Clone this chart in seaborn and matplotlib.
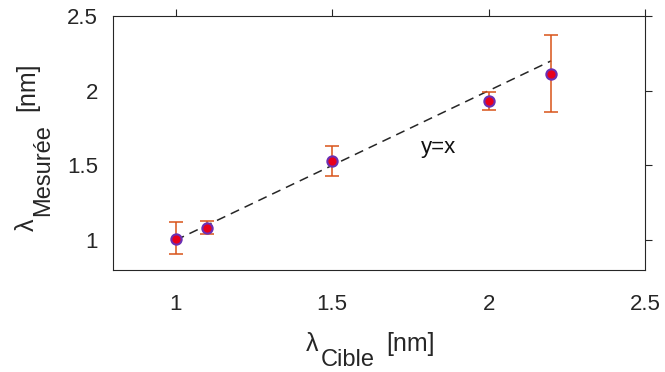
import matplotlib
matplotlib.use("Agg")
import matplotlib.pyplot as plt
import matplotlib.transforms as mtransforms
import seaborn as sns
import pandas as pd

# data
lam_cible = [1.0, 1.1, 1.5, 2.0, 2.2]
lam_mesuree = [1.01, 1.08, 1.53, 1.93, 2.11]
err_low = [0.10, 0.04, 0.10, 0.06, 0.25]
err_high = [0.11, 0.05, 0.10, 0.06, 0.26]
ref_x = [1.0, 2.2]
ticks = [1, 1.5, 2, 2.5]
tick_labels = ["1", "1.5", "2", "2.5"]

sns.set_style("white")
plt.rcParams["font.family"] = ["Liberation Sans", "DejaVu Sans"]

df = pd.DataFrame({"cible": lam_cible, "mesuree": lam_mesuree})
ref = pd.DataFrame({"x": ref_x, "y": ref_x})

fig = plt.figure(figsize=(6.65, 3.72), dpi=100)
ax = fig.add_axes([0.170, 0.274, 0.800, 0.683])
dark = "#262626"

sns.lineplot(data=ref, x="x", y="y", ax=ax, color=dark,
             linestyle=(0, (6, 4)), linewidth=1.1)
ax.errorbar(lam_cible, lam_mesuree, yerr=[err_low, err_high], fmt="none",
            ecolor="#D95319", elinewidth=1.1, capsize=5, capthick=1.1, zorder=3)
sns.scatterplot(data=df, x="cible", y="mesuree", ax=ax, color="#e8001c",
                edgecolor="#6b2fb3", linewidth=1.5, s=55, zorder=4)

ax.text(1.84, 1.62, "y=x", fontsize=16, ha="center", va="center", color="#111111")

ax.set_xlim(0.8, 2.5)
ax.set_ylim(0.8, 2.5)
ax.set_xticks(ticks)
ax.set_xticklabels(tick_labels)
ax.set_yticks(ticks)
ax.set_yticklabels(tick_labels)
ax.tick_params(direction="out", length=5, width=0.8, color=dark,
               labelsize=16, labelcolor=dark, top=True, right=True,
               labeltop=False, labelright=False)
ax.tick_params(axis="x", pad=12)
ax.tick_params(axis="y", pad=6)
for s in ax.spines.values():
    s.set_visible(True)
    s.set_color(dark)
    s.set_linewidth(0.8)
ax.set_xlabel("")
ax.set_ylabel("")


# MATLAB-like labels: big subscript, built from pieces
def piece_label(parts, x0, y0, rotation=0):
    renderer = fig.canvas.get_renderer()
    offset = 0.0
    for txt, size, shift, gap in parts:
        if rotation == 0:
            tr = mtransforms.offset_copy(fig.transFigure, fig=fig, x=offset,
                                         y=-shift, units="dots")
        else:
            tr = mtransforms.offset_copy(fig.transFigure, fig=fig, x=shift,
                                         y=offset, units="dots")
        t = fig.text(x0, y0, txt, fontsize=size, color=dark, transform=tr,
                     rotation=rotation, ha="left", va="baseline",
                     rotation_mode="anchor")
        bb = t.get_window_extent(renderer)
        offset += (bb.width if rotation == 0 else bb.height) + gap


piece_label([("λ", 18, 0, 2), ("Cible", 17, 15, 12), ("[nm]", 18, 0, 0)],
            306 / 665, 1 - 351 / 372)
piece_label([("λ", 18, 0, 2), ("Mesurée", 17, 15, 14), ("[nm]", 18, 0, 0)],
            34 / 665, 1 - 231 / 372, rotation=90)

fig.savefig("out.png", dpi=100)
